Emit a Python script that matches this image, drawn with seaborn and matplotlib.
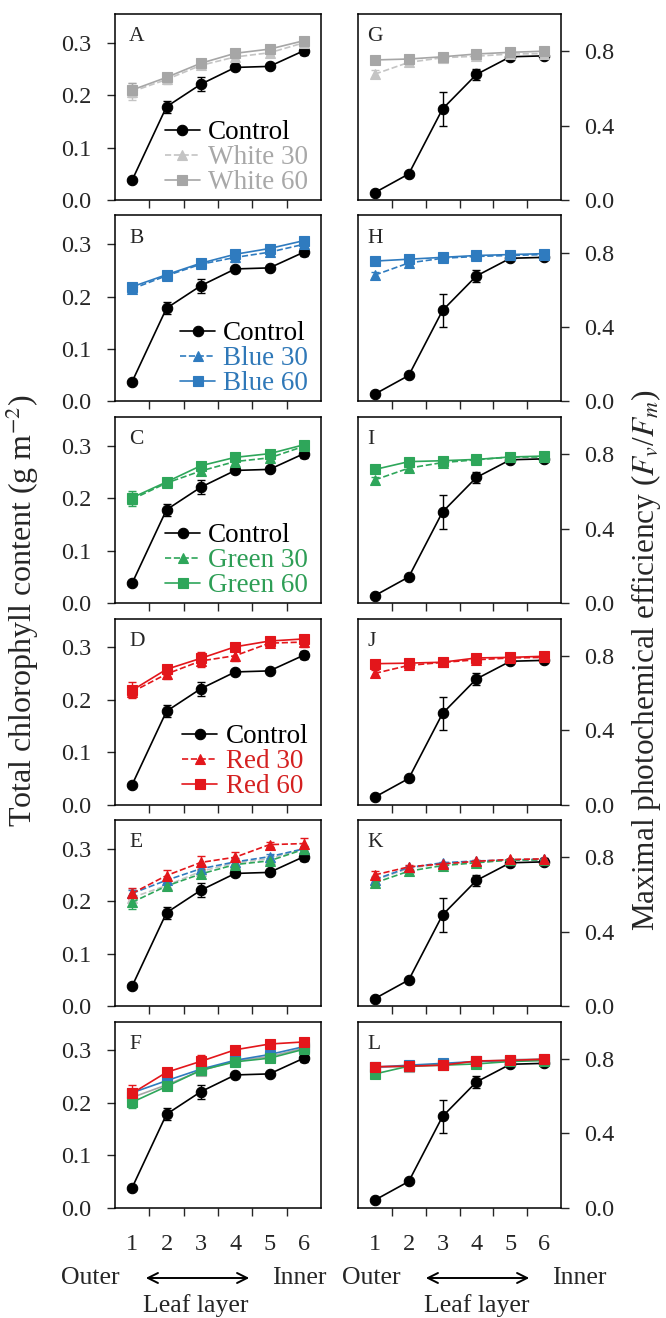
import matplotlib
matplotlib.use("Agg")
import matplotlib.pyplot as plt
import seaborn as sns

# -------------------- DATA --------------------
layers = [1, 2, 3, 4, 5, 6]

# Total chlorophyll content (g m-2)
chl_control = [0.038, 0.178, 0.221, 0.253, 0.255, 0.285]
chl_control_err = [0.003, 0.011, 0.013, 0.004, 0.004, 0.008]
chl_white30 = [0.207, 0.230, 0.257, 0.273, 0.281, 0.300]
chl_white30_err = [0.016, 0.008, 0.006, 0.006, 0.005, 0.004]
chl_white60 = [0.210, 0.234, 0.261, 0.280, 0.288, 0.304]
chl_white60_err = [0.014, 0.008, 0.006, 0.006, 0.005, 0.006]
chl_blue30 = [0.215, 0.240, 0.262, 0.275, 0.285, 0.300]
chl_blue30_err = [0.006, 0.005, 0.007, 0.008, 0.006, 0.005]
chl_blue60 = [0.219, 0.242, 0.264, 0.281, 0.292, 0.307]
chl_blue60_err = [0.006, 0.006, 0.007, 0.008, 0.006, 0.006]
chl_green30 = [0.198, 0.229, 0.252, 0.270, 0.277, 0.299]
chl_green30_err = [0.012, 0.005, 0.008, 0.006, 0.006, 0.005]
chl_green60 = [0.201, 0.231, 0.262, 0.278, 0.285, 0.302]
chl_green60_err = [0.012, 0.005, 0.006, 0.006, 0.006, 0.006]
chl_red30 = [0.215, 0.249, 0.274, 0.284, 0.308, 0.310]
chl_red30_err = [0.010, 0.010, 0.012, 0.010, 0.005, 0.010]
chl_red60 = [0.218, 0.258, 0.279, 0.301, 0.312, 0.316]
chl_red60_err = [0.015, 0.008, 0.012, 0.006, 0.006, 0.005]

# Maximal photochemical efficiency (Fv/Fm)
fv_control = [0.040, 0.140, 0.490, 0.675, 0.770, 0.775]
fv_control_err = [0.005, 0.008, 0.090, 0.030, 0.010, 0.008]
fv_white30 = [0.677, 0.740, 0.765, 0.773, 0.785, 0.787]
fv_white30_err = [0.020, 0.010, 0.006, 0.006, 0.005, 0.005]
fv_white60 = [0.753, 0.758, 0.770, 0.785, 0.794, 0.800]
fv_white60_err = [0.012, 0.010, 0.006, 0.006, 0.005, 0.005]
fv_blue30 = [0.680, 0.745, 0.770, 0.780, 0.785, 0.790]
fv_blue30_err = [0.015, 0.010, 0.006, 0.006, 0.005, 0.005]
fv_blue60 = [0.755, 0.765, 0.775, 0.785, 0.790, 0.795]
fv_blue60_err = [0.010, 0.010, 0.006, 0.006, 0.005, 0.005]
fv_green30 = [0.662, 0.725, 0.755, 0.770, 0.785, 0.785]
fv_green30_err = [0.015, 0.010, 0.006, 0.006, 0.005, 0.005]
fv_green60 = [0.718, 0.760, 0.765, 0.772, 0.785, 0.790]
fv_green60_err = [0.012, 0.010, 0.006, 0.006, 0.005, 0.005]
fv_red30 = [0.705, 0.748, 0.764, 0.778, 0.788, 0.791]
fv_red30_err = [0.020, 0.012, 0.006, 0.006, 0.005, 0.005]
fv_red60 = [0.757, 0.760, 0.765, 0.788, 0.791, 0.797]
fv_red60_err = [0.010, 0.008, 0.006, 0.006, 0.005, 0.005]

left_letters = ["A", "B", "C", "D", "E", "F"]
right_letters = ["G", "H", "I", "J", "K", "L"]
x_labels = ["1", "2", "3", "4", "5", "6"]

# -------------------- STYLE --------------------
sns.set_style("ticks")
plt.rcParams["font.family"] = ["Liberation Serif", "DejaVu Serif"]
plt.rcParams["mathtext.fontset"] = "stix"

colors = {"Control": "black", "White": "#b4b4b4", "Blue": "#2f7bbf",
          "Green": "#2ea65a", "Red": "#e3161b"}
text_colors = {"Control": "black", "White": "#a8a8a8", "Blue": "#2f78b8",
               "Green": "#2e9e56", "Red": "#d42020"}

chl = {"Control": (chl_control, chl_control_err),
       "White 30": (chl_white30, chl_white30_err), "White 60": (chl_white60, chl_white60_err),
       "Blue 30": (chl_blue30, chl_blue30_err), "Blue 60": (chl_blue60, chl_blue60_err),
       "Green 30": (chl_green30, chl_green30_err), "Green 60": (chl_green60, chl_green60_err),
       "Red 30": (chl_red30, chl_red30_err), "Red 60": (chl_red60, chl_red60_err)}
fv = {"Control": (fv_control, fv_control_err),
      "White 30": (fv_white30, fv_white30_err), "White 60": (fv_white60, fv_white60_err),
      "Blue 30": (fv_blue30, fv_blue30_err), "Blue 60": (fv_blue60, fv_blue60_err),
      "Green 30": (fv_green30, fv_green30_err), "Green 60": (fv_green60, fv_green60_err),
      "Red 30": (fv_red30, fv_red30_err), "Red 60": (fv_red60, fv_red60_err)}

panels = [
    ["Control", "White 30", "White 60"],
    ["Control", "Blue 30", "Blue 60"],
    ["Control", "Green 30", "Green 60"],
    ["Control", "Red 30", "Red 60"],
    ["Control", "White 30", "Blue 30", "Green 30", "Red 30"],
    ["Control", "White 60", "Blue 60", "Green 60", "Red 60"],
]


def series_style(name):
    if name == "Control":
        return colors["Control"], "o", "-"
    light, dose = name.split()
    col = colors[light]
    if light == "White" and dose == "30":
        col = "#c4c4c4"
    if light == "White" and dose == "60":
        col = "#a6a6a6"
    return col, ("^" if dose == "30" else "s"), ("--" if dose == "30" else "-")


def draw_panel(ax, data, names, with_legend):
    for name in names:
        vals, err = data[name]
        col, mk, ls = series_style(name)
        ax.errorbar(layers, vals, yerr=err, fmt="none", ecolor=col,
                    elinewidth=1.0, capsize=3, capthick=1.0, zorder=2)
        sns.lineplot(x=layers, y=vals, ax=ax, color=col, marker=mk,
                     linestyle=ls, linewidth=1.2, markersize=7.5,
                     markeredgecolor=col, markeredgewidth=0.8,
                     label=name, legend=False, zorder=3)
    if with_legend:
        leg = ax.legend(loc="lower right", bbox_to_anchor=(1.03, -0.075),
                        frameon=False, fontsize=19.5, handlelength=1.3,
                        handletextpad=0.3, labelspacing=0.0,
                        borderpad=0.2)
        for txt in leg.get_texts():
            txt.set_color(text_colors[txt.get_text().split()[0]])
    else:
        leg = ax.get_legend()
        if leg is not None:
            leg.remove()


# -------------------- FIGURE --------------------
W, H = 666, 1318
fig = plt.figure(figsize=(W / 100, H / 100), dpi=100)

for i in range(6):
    top = 14 + i * 201.5
    bottom = 1 - (top + 186) / H
    ax_l = fig.add_axes([115 / W, bottom, 206 / W, 186 / H])
    ax_r = fig.add_axes([358 / W, bottom, 203 / W, 186 / H])

    draw_panel(ax_l, chl, panels[i], with_legend=(i < 4))
    draw_panel(ax_r, fv, panels[i], with_legend=False)

    for ax in (ax_l, ax_r):
        ax.set_xlim(0.5, 6.5)
        ax.set_xticks(layers)
        ax.set_xticks([1.5, 2.5, 3.5, 4.5, 5.5], minor=True)
        ax.set_xticklabels(x_labels if i == 5 else [])
        ax.tick_params(axis="x", which="major", length=0, pad=19, labelsize=17.5)
        ax.tick_params(axis="x", which="minor", length=6, width=1.0, direction="out")
        ax.tick_params(axis="y", length=6, width=1.0, direction="out", labelsize=17.5, pad=11)
        ax.set_xlabel("")
        ax.set_ylabel("")
        for sp in ax.spines.values():
            sp.set_visible(True)
            sp.set_color("black")
            sp.set_linewidth(1.1)

    ax_l.set_ylim(0, 0.355)
    ax_l.set_yticks([0.0, 0.1, 0.2, 0.3])
    ax_l.set_yticklabels(["0.0", "0.1", "0.2", "0.3"])
    ax_l.text(0.068, 0.93, left_letters[i], transform=ax_l.transAxes,
              ha="left", va="top", fontsize=15.5)

    ax_r.set_ylim(0, 1.0)
    ax_r.set_yticks([0.0, 0.4, 0.8])
    ax_r.set_yticklabels(["0.0", "0.4", "0.8"])
    ax_r.yaxis.tick_right()
    ax_r.tick_params(axis="y", which="both", left=False, right=True)
    ax_r.text(0.045, 0.93, right_letters[i], transform=ax_r.transAxes,
              ha="left", va="top", fontsize=15.5)

# axis titles
fig.text(22 / W, 1 - 611 / H, "Total chlorophyll content (g m$^{-2}$)",
         rotation=90, ha="center", va="center", fontsize=23)
fig.text(646 / W, 1 - 660 / H,
         "Maximal photochemical efficiency ($F_v$/$F_m$)",
         rotation=90, ha="center", va="center", fontsize=22.5)

# leaf layer direction notes
for x_outer, x_a0, x_a1, x_inner, x_leaf in [(90, 143, 252, 299, 196),
                                            (371, 423, 532, 579, 477)]:
    y_dir = 1 - 1278 / H
    fig.text(x_outer / W, y_dir, "Outer", ha="center", va="center", fontsize=18.5)
    fig.text(x_inner / W, y_dir, "Inner", ha="center", va="center", fontsize=18.5)
    fig.add_artist(matplotlib.patches.FancyArrowPatch(
        (x_a0 / W, y_dir), (x_a1 / W, y_dir), transform=fig.transFigure,
        arrowstyle="<->", mutation_scale=18, linewidth=1.4, color="black"))
    fig.text(x_leaf / W, 1 - 1306 / H, "Leaf layer", ha="center",
             va="center", fontsize=18.5)

fig.savefig("out.png", dpi=100)
